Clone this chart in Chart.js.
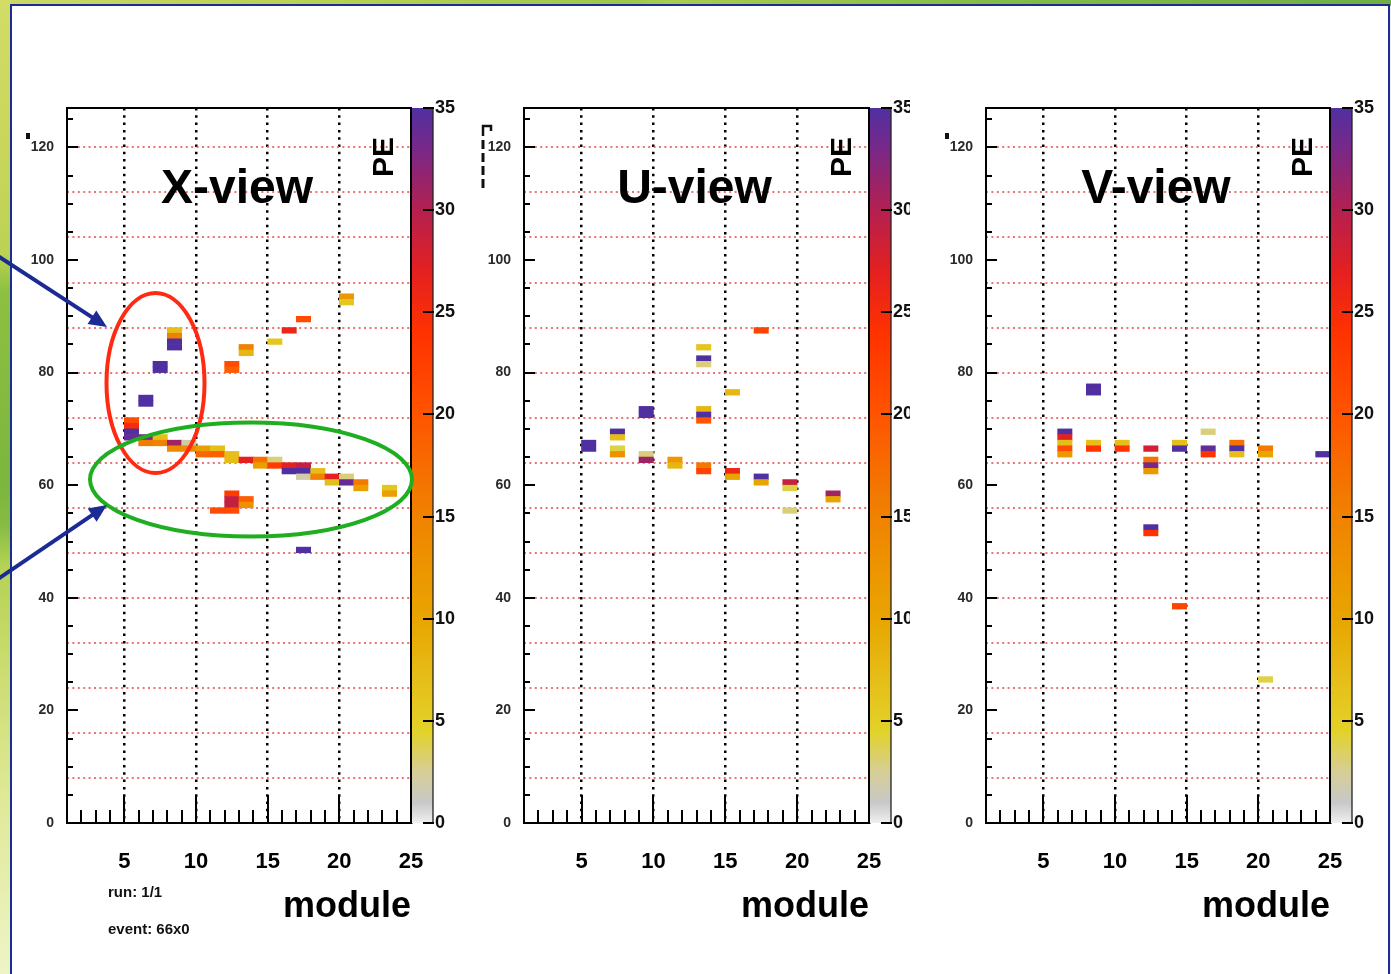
<!DOCTYPE html>
<html><head><meta charset="utf-8">
<script src="https://cdn.jsdelivr.net/npm/chart.js@4.4.0/dist/chart.umd.min.js"></script>
<style>
html,body{margin:0;padding:0;}
body{width:1391px;height:974px;position:relative;overflow:hidden;background:#eef2f8;font-family:"Liberation Sans",Arial,sans-serif;}
#topbar{position:absolute;left:0;top:0;width:1391px;height:6px;background:linear-gradient(90deg,#cbd862 0%,#b6d052 25%,#9cc84a 45%,#a8cc50 48%,#86bc44 70%,#6fae42 100%);}
#leftbar{position:absolute;left:0;top:0;width:11px;height:974px;background:linear-gradient(180deg,#d2dc66 0%,#c6d65a 18%,#bcd254 26%,#8cc042 30%,#7cb63e 50%,#86bc44 54%,#b4d254 58%,#cadc6e 68%,#dfe998 82%,#eef4c6 100%);}
#frame{position:absolute;left:10px;top:4px;width:1380px;height:990px;border:2px solid #1c2c96;box-sizing:border-box;background:#fff;}
canvas{position:absolute;top:0;}
</style></head>
<body>
<div id="topbar"></div>
<div id="leftbar"></div>
<div id="frame"></div>
<canvas id="cX" width="460" height="974" style="left:0px"></canvas>
<canvas id="cU" width="450" height="974" style="left:460px"></canvas>
<canvas id="cV" width="475" height="974" style="left:913px"></canvas>
<script>
const FONT = '"Liberation Sans", Arial, Helvetica, sans-serif';
Chart.defaults.font.family = FONT;

// ---- data: module (bin start), strip (bin start), PE value ----
const xviewModule = [20,20,17,16,15,13,13,12,12,8,8,8,8,7,7,6,6,5,5,5,5,6,6,7,7,8,8,9,9,10,10,11,11,12,12,13,14,14,15,15,16,16,17,17,17,18,18,19,19,20,20,21,21,23,23,12,12,12,13,13,11,12,17];
const xviewStrip  = [93,92,89,87,85,84,83,81,80,87,86,85,84,81,80,75,74,71,70,69,68,68,67,68,67,67,66,67,66,66,65,66,65,65,64,64,64,63,64,63,63,62,63,62,61,62,61,61,60,61,60,60,59,59,58,58,57,56,57,56,55,55,48];
const xviewPE     = [12,6,21,26,6,15,8,21,19,7,15,35,35,35,35,35,35,21,25,35,34,33,16,7,15,31,14,2,14,11,18,7,19,7,7,27,17,11,3,23,27,35,29,35,2,7,15,27,7,3,34,16,11,6,11,23,29,29,19,13,21,21,35];

const uviewModule = [17,13,13,13,15,9,9,13,13,13,5,5,7,7,7,7,9,9,11,11,13,13,15,15,17,17,19,19,19,22,22];
const uviewStrip  = [87,84,82,81,76,73,72,73,72,71,67,66,69,68,66,65,65,64,64,63,63,62,62,61,61,60,60,59,55,58,57];
const uviewPE     = [22,6,35,3,8,35,35,8,35,20,35,35,35,7,4,13,3,31,12,8,16,22,26,10,35,10,29,4,3,31,10];

const vviewModule = [8,8,6,6,6,6,6,8,8,10,10,12,12,12,12,12,12,14,14,16,16,16,18,18,18,20,20,24,14,20];
const vviewStrip  = [77,76,69,68,67,66,65,67,66,67,66,66,64,63,62,52,51,67,66,69,66,65,67,66,65,66,65,65,38,25];
const vviewPE     = [35,35,35,27,7,21,12,7,24,7,24,28,17,33,12,35,24,7,35,3,34,24,17,35,7,16,10,35,22,4];

const peRange = [0, 35];
const moduleRange = [1, 25];
const stripRange = [0, 127];

// colour palette (PE value -> colour)
const STOPS = [[0,[240,240,240]],[1,[200,200,200]],[2.5,[214,206,150]],[4.5,[226,210,40]],[7,[230,190,25]],[10,[232,165,0]],[13,[238,145,0]],[16,[242,122,0]],[20,[255,84,0]],[24,[255,50,0]],[27,[228,32,32]],[30,[180,32,80]],[33,[120,40,136]],[35,[80,48,160]]];
function peColor(v){
  v = Math.max(0, Math.min(35, v));
  for (let i = 1; i < STOPS.length; i++) {
    if (v <= STOPS[i][0]) {
      const a = STOPS[i-1][0], ca = STOPS[i-1][1], b = STOPS[i][0], cb = STOPS[i][1];
      const t = (v - a) / (b - a);
      return 'rgb(' + ca.map((c,k)=>Math.round(c + (cb[k]-c)*t)).join(',') + ')';
    }
  }
  return 'rgb(80,48,160)';
}

function arrow(ctx, x1, y1, x2, y2){
  const ang = Math.atan2(y2-y1, x2-x1), L = 18, Wd = 8;
  const c = Math.cos(ang), s = Math.sin(ang);
  ctx.beginPath(); ctx.moveTo(x1,y1); ctx.lineTo(x2 - L*0.8*c, y2 - L*0.8*s); ctx.stroke();
  ctx.beginPath(); ctx.moveTo(x2, y2);
  ctx.lineTo(x2 - L*c + Wd*s, y2 - L*s - Wd*c);
  ctx.lineTo(x2 - L*c - Wd*s, y2 - L*s + Wd*c);
  ctx.closePath(); ctx.fill();
}

const decor = {
  id: 'decor',
  afterDraw(chart, args, o){
    const {ctx, chartArea: a} = chart;
    const xs = chart.scales.x, ys = chart.scales.y, pe = chart.scales.pe;
    ctx.save();
    ctx.lineCap = 'butt';
    // inner tick marks
    ctx.strokeStyle = '#000'; ctx.lineWidth = 2; ctx.beginPath();
    xs.ticks.forEach(t => { const v = t.value; if (v <= xs.min || v >= xs.max) return;
      const p = Math.round(xs.getPixelForValue(v)); const L = v % 5 === 0 ? 28 : 13;
      ctx.moveTo(p, a.bottom); ctx.lineTo(p, a.bottom - L); });
    ys.ticks.forEach(t => { const v = t.value; if (v <= ys.min || v >= ys.max) return;
      const p = Math.round(ys.getPixelForValue(v)); const L = v % 20 === 0 ? 11 : 6;
      ctx.moveTo(a.left, p); ctx.lineTo(a.left + L, p); });
    ctx.stroke();
    // frame top/right
    ctx.beginPath(); ctx.moveTo(a.left - 1, a.top); ctx.lineTo(a.right, a.top); ctx.lineTo(a.right, a.bottom + 1); ctx.stroke();
    // colour bar
    const bw = 22, top = pe.getPixelForValue(35), bot = pe.getPixelForValue(0);
    const g = ctx.createLinearGradient(0, bot, 0, top);
    STOPS.forEach(s => g.addColorStop(s[0]/35, peColor(s[0])));
    ctx.fillStyle = g; ctx.fillRect(a.right + 1, top, bw - 1, bot - top);
    ctx.lineWidth = 1.3; ctx.strokeStyle = '#222';
    ctx.beginPath(); ctx.moveTo(a.right + bw, top); ctx.lineTo(a.right + bw, bot); ctx.stroke();
    ctx.lineWidth = 2; ctx.strokeStyle = '#000'; ctx.beginPath();
    pe.ticks.forEach(t => { const p = Math.round(pe.getPixelForValue(t.value)); ctx.moveTo(a.right + bw - 10, p); ctx.lineTo(a.right + bw + 1, p); });
    ctx.stroke();
    // titles
    ctx.fillStyle = '#000';
    ctx.font = 'bold 48px ' + FONT; ctx.textAlign = 'center'; ctx.textBaseline = 'alphabetic';
    ctx.fillText(o.title, (a.left + a.right)/2 - 2, 203);
    ctx.save(); ctx.translate(a.right - 26, 157); ctx.rotate(-Math.PI/2);
    ctx.font = 'bold 30px ' + FONT; ctx.textBaseline = 'middle'; ctx.fillText('PE', 0, 0); ctx.restore();
    // cut-off axis title marks
    ctx.fillStyle = '#111'; ctx.strokeStyle = '#111';
    if (o.mark === 'dot') { ctx.fillRect(a.left - 41, 133, 4, 6); }
    else {
      const mx = a.left - 41;
      ctx.lineWidth = 3; ctx.setLineDash([9,4]);
      ctx.beginPath(); ctx.moveTo(mx, 140); ctx.lineTo(mx, 188); ctx.stroke();
      ctx.setLineDash([]); ctx.lineWidth = 2.5;
      ctx.beginPath(); ctx.moveTo(mx, 136); ctx.lineTo(mx, 126); ctx.lineTo(mx + 8, 126); ctx.lineTo(mx + 8, 131); ctx.stroke();
    }
    if (o.info) {
      ctx.fillStyle = '#111'; ctx.font = 'bold 15px ' + FONT; ctx.textAlign = 'left'; ctx.textBaseline = 'middle';
      ctx.fillText('run: 1/1', 108, 893);
      ctx.fillText('event: 66x0', 108, 930);
      // annotations
      ctx.lineWidth = 4;
      ctx.strokeStyle = '#ff2a12';
      ctx.beginPath(); ctx.ellipse(155.5, 383, 49, 90, 0, 0, Math.PI*2); ctx.stroke();
      ctx.strokeStyle = '#1fae22';
      ctx.beginPath(); ctx.ellipse(251, 479.5, 161, 57, 0, 0, Math.PI*2); ctx.stroke();
      ctx.strokeStyle = '#1c2a94'; ctx.fillStyle = '#1c2a94'; ctx.lineWidth = 4;
      arrow(ctx, -2, 256, 107, 327);
      arrow(ctx, -2, 579, 107, 505);
    }
    ctx.restore();
  }
};

function buildView(canvasId, mods, strips, pes, opts){
  const cells = mods.map((m, i) => ({x: m + 0.5, y: [strips[i], strips[i] + 1], v: pes[i]}));
  const canvas = document.getElementById(canvasId);
  const W = canvas.width;
  return new Chart(canvas, {
    type: 'bar',
    data: {datasets: [{data: cells, xAxisID: 'x', yAxisID: 'y',
      backgroundColor: c => peColor(c.raw ? c.raw.v : 0), borderWidth: 0,
      barPercentage: 1, categoryPercentage: 1}]},
    options: {
      responsive: false, animation: false, events: [],
      layout: {padding: {top: 108, left: 0, right: 0, bottom: 0}},
      plugins: {legend: {display: false}, tooltip: {enabled: false}, decor: opts},
      scales: {
        x: {type: 'linear', position: 'bottom', min: moduleRange[0], max: moduleRange[1], offset: false,
          afterFit: s => { s.height = 151; },
          ticks: {stepSize: 1, includeBounds: false, autoSkip: false, maxRotation: 0, minRotation: 0, padding: 26,
            color: '#000', font: {size: 22, weight: 'bold'}, callback: v => (v % 5 === 0 ? String(v) : '')},
          grid: {drawTicks: false, lineWidth: 2.5, offset: false,
            color: c => (c.tick && c.tick.value % 5 === 0 && c.tick.value > 1 && c.tick.value < 25) ? '#000' : 'rgba(0,0,0,0)'},
          border: {display: true, color: '#000', width: 2, dash: [2.5, 4.8]},
          title: {display: true, text: 'module', align: 'end', color: '#000', font: {size: 36, weight: 'bold'}, padding: {top: 0, bottom: 45}}},
        y: {type: 'linear', position: 'left', min: stripRange[0], max: stripRange[1], offset: false,
          afterFit: s => { s.width = opts.left; },
          ticks: {stepSize: 5, includeBounds: false, autoSkip: false, padding: 5, color: '#2a2a2a',
            font: {size: 14, weight: 'bold'}, callback: v => (v % 20 === 0 ? String(v) : '')},
          grid: {display: false},
          border: {display: true, color: '#000', width: 2}},
        yg: {axis: 'y', type: 'linear', position: 'left', min: stripRange[0], max: stripRange[1], offset: false,
          afterFit: s => { s.width = 0; },
          ticks: {display: false, stepSize: 8, includeBounds: false},
          grid: {drawTicks: false, color: 'rgba(232,100,100,0.9)', lineWidth: 2},
          border: {display: false, dash: [2, 3.4]}},
        pe: {axis: 'y', type: 'linear', position: 'right', min: peRange[0], max: peRange[1], offset: false,
          afterFit: s => { s.width = W - opts.right; },
          ticks: {stepSize: 5, autoSkip: false, padding: 2, color: '#111', font: {size: 18, weight: 'bold'}},
          grid: {drawOnChartArea: false, drawTicks: true, tickLength: 22, tickColor: 'rgba(0,0,0,0)'},
          border: {display: false}}
      }
    },
    plugins: [decor]
  });
}

buildView('cX', xviewModule, xviewStrip, xviewPE, {title: 'X-view', left: 67, right: 411, mark: 'dot', info: true});
buildView('cU', uviewModule, uviewStrip, uviewPE, {title: 'U-view', left: 64, right: 409, mark: 'dash', info: false});
buildView('cV', vviewModule, vviewStrip, vviewPE, {title: 'V-view', left: 73, right: 417, mark: 'dot', info: false});
</script>
</body></html>
